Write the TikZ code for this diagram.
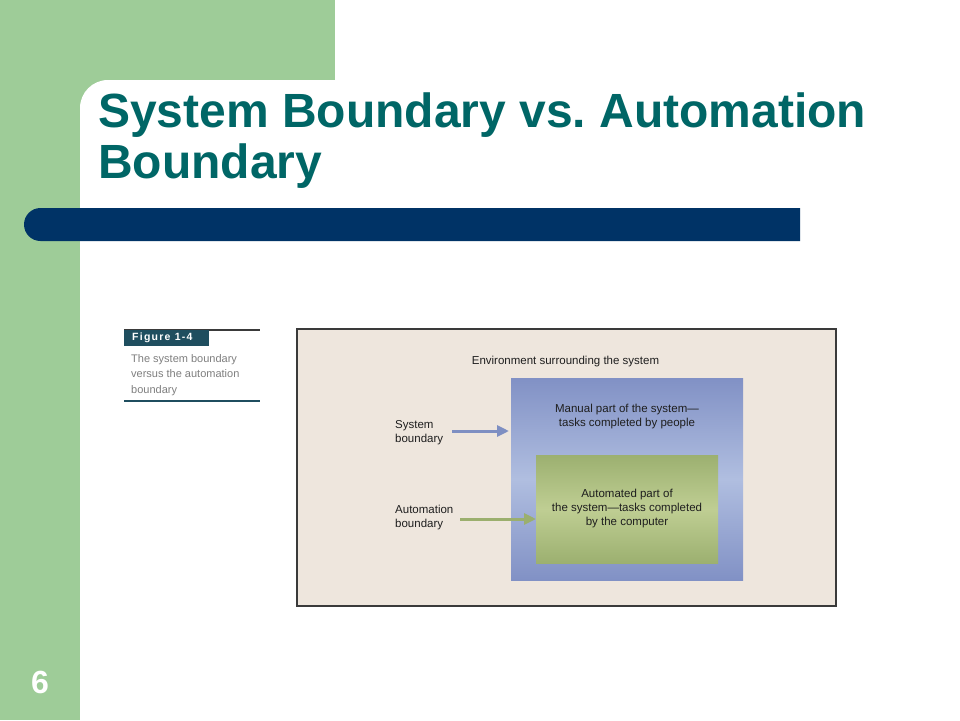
\documentclass[tikz,border=0pt]{standalone}
\usepackage{fontspec}
\setmainfont{Liberation Sans}
\newfontfamily\figfont{Liberation Sans}[LetterSpace=12.0]
\usetikzlibrary{arrows.meta}
\frenchspacing
\definecolor{slidegreen}{HTML}{9ECC98}
\definecolor{barblue}{HTML}{003366}
\definecolor{titleteal}{HTML}{006666}
\definecolor{capteal}{HTML}{1F4E5F}
\definecolor{envfill}{HTML}{EEE6DD}
\definecolor{envline}{HTML}{3A3A3A}
\definecolor{sysblue}{HTML}{8191C5}
\definecolor{sysbluelt}{HTML}{B0BEE0}
\definecolor{autogreen}{HTML}{9CB070}
\definecolor{autogreenlt}{HTML}{BFCE93}
\definecolor{arrblue}{HTML}{7E8FC2}
\definecolor{arrgreen}{HTML}{9BAF6E}
\definecolor{txtdark}{HTML}{1E1E1E}
\definecolor{captxt}{HTML}{7F7F7F}
\tikzset{
  difftext/.style={font=\fontsize{11.5}{14}\selectfont, text=txtdark, inner sep=0pt},
  bndarrow/.style={line width=3pt, -{Triangle[length=12pt,width=11pt]}},
}
\begin{document}
\begin{tikzpicture}[x=1pt,y=-1pt]
\useasboundingbox (0,0) rectangle (960,720);
% background
\fill[white] (0,0) rectangle (960,720);
\fill[slidegreen] (0,0) rectangle (335,110);
\fill[slidegreen] (0,0) rectangle (80,720);
\fill[white] (80,720) -- (80,108) arc[start angle=180,end angle=270,radius=28] -- (335,80) -- (335,110) -- (960,110) -- (960,720) -- cycle;
% title bar
\fill[barblue] (800,208) -- (40.5,208) arc[start angle=270,end angle=90,radius=16.5] -- (800,241) -- cycle;
% title
\node[anchor=base west, inner sep=0pt, align=left, text=titleteal,
      font=\fontsize{48}{51}\selectfont\bfseries] (title) at (98,178)
  {System Boundary vs. Automation\\Boundary};
% page number
\node[anchor=base, inner sep=0pt, text=white, font=\fontsize{32}{32}\selectfont\bfseries] (pagenum) at (40,693) {6};
% figure caption
\draw[envline, line width=1.5pt] (124,330) -- (260,330);
\node[fill=capteal, anchor=north west, minimum width=85pt, minimum height=16pt, inner sep=0pt] (figbox) at (124,330) {};
\node[anchor=west, inner sep=0pt, text=white, font=\figfont\fontsize{10.5}{12}\selectfont\bfseries] (figlabel) at (132,338) {Figure 1-4};
\node[anchor=base west, inner sep=0pt, align=left, text=captxt, font=\fontsize{11}{15.5}\selectfont] (captext) at (131,393)
  {The system boundary\\versus the automation\\boundary};
\draw[capteal, line width=1.5pt] (124,401) -- (260,401);
% environment
\node[draw=envline, line width=1.5pt, fill=envfill, anchor=north west, minimum width=539pt, minimum height=277pt, inner sep=0pt] (env) at (296,328) {};
\node[difftext, anchor=base] (envlabel) at (565.5,364) {Environment surrounding the system};
% system (manual) box
\shade[top color=sysblue, bottom color=sysblue, middle color=sysbluelt] (511,378) rectangle (743,580);
\coordinate (sysleft) at (509,431);
\node[difftext, anchor=base, align=center] (manual) at (627,426) {Manual part of the system---\\tasks completed by people};
% automated box
\shade[top color=autogreen, bottom color=autogreen, middle color=autogreenlt] (536,455) rectangle (718,563);
\coordinate (autoleft) at (536,519);
\node[difftext, anchor=base, align=center] (auto) at (627,525) {Automated part of\\the system---tasks completed\\by the computer};
% boundary labels and arrows
\node[difftext, anchor=base west, align=left] (syslabel) at (395,442) {System\\boundary};
\node[difftext, anchor=base west, align=left] (autolabel) at (395,527) {Automation\\boundary};
\coordinate (sysstart) at (452,431);
\coordinate (autostart) at (460,519);
\draw[bndarrow, arrblue] (sysstart) -- (sysleft);
\draw[bndarrow, arrgreen] (autostart) -- (autoleft);
\end{tikzpicture}
\end{document}
